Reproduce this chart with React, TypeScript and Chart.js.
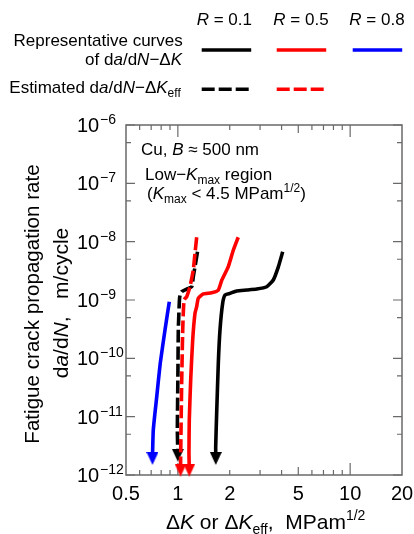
import React, { useEffect, useRef } from "react";
import { Chart, registerables } from "chart.js";

Chart.register(...registerables);

const FONT = "'Liberation Sans', Arial, sans-serif";

// ---- Data (ΔK in MPa·m^1/2, da/dN in m/cycle), listed from top end to arrow ----
const R01_DK = [4.06, 3.83, 3.58, 3.28, 2.87, 2.51, 2.195, 2.007, 1.877, 1.82, 1.756, 1.717, 1.68, 1.658, 1.66];
const R01_DADN = [6.7e-9, 3.7e-9, 2.2e-9, 1.69e-9, 1.54e-9, 1.48e-9, 1.43e-9, 1.3e-9, 1.22e-9, 8.8e-10, 3.06e-10, 8.2e-11, 1.16e-11, 3.06e-12, 1.92e-12];

const R05_DK = [2.24, 2.1, 1.96, 1.8, 1.717, 1.57, 1.405, 1.314, 1.286, 1.257, 1.219, 1.187, 1.165, 1.16, 1.165];
const R05_DADN = [1.19e-8, 7.2e-9, 3.7e-9, 2.2e-9, 1.48e-9, 1.33e-9, 1.27e-9, 1.07e-9, 7.7e-10, 5.9e-10, 2.06e-10, 4.25e-11, 8.8e-12, 2.35e-12, 1.21e-12];

const R08_DK = [0.892, 0.842, 0.79, 0.754, 0.72, 0.712];
const R08_DADN = [9.35e-10, 3.06e-10, 8.2e-11, 2.2e-11, 5.9e-12, 1.92e-12];

const R01_EFF_DK = [1.3, 1.257, 1.229, 1.203, 1.125, 1.053, 1.029, 1.02, 1.006, 1.0, 0.993, 1.0];
const R01_EFF_DADN = [6.7e-9, 3.7e-9, 2.5e-9, 1.69e-9, 1.53e-9, 1.39e-9, 1.22e-9, 9.35e-10, 3.06e-10, 4.25e-11, 5.9e-12, 2.18e-12];

const R05_EFF_DK = [1.286, 1.257, 1.229, 1.176, 1.125, 1.086, 1.067, 1.053, 1.043, 1.036];
const R05_EFF_DADN = [1.19e-8, 6.3e-9, 3.27e-9, 1.69e-9, 1.14e-9, 1.0e-9, 3.06e-10, 4.25e-11, 5.9e-12, 1.21e-12];

// ---- Axis ticks ----
const X_TICK_VALUES = [0.5, 1, 2, 5, 10, 20];
const X_TICK_LABELS = ["0.5", "1", "2", "5", "10", "20"];
const X_MAJOR_TICKS = [1, 10];
const X_MID_TICKS = [5];
const X_MINOR_TICKS = [0.6, 0.7, 0.8, 0.9, 2, 3, 4, 6, 7, 8, 9];
const Y_EXPONENTS = [-12, -11, -10, -9, -8, -7, -6];
const Y_MINOR_TICKS = [5e-12, 5e-11, 5e-10, 5e-9, 5e-8, 5e-7];

const R_LABELS = ["0.1", "0.5", "0.8"];
const SERIES_COLORS = ["#000000", "#ff0000", "#0000ff"];

type Seg = { t: string; it?: boolean; s?: number; dy?: number };

function segFont(seg: Seg, base: number) {
  return `${seg.it ? "italic " : ""}${seg.s ?? base}px ${FONT}`;
}
function richWidth(ctx: CanvasRenderingContext2D, segs: Seg[], base: number) {
  let w = 0;
  for (const s of segs) {
    ctx.font = segFont(s, base);
    w += ctx.measureText(s.t).width;
  }
  return w;
}
function drawRich(
  ctx: CanvasRenderingContext2D,
  segs: Seg[],
  x: number,
  y: number,
  base: number,
  align: "left" | "right" | "center" = "left"
) {
  const w = richWidth(ctx, segs, base);
  let cx = align === "left" ? x : align === "right" ? x - w : x - w / 2;
  ctx.textAlign = "left";
  ctx.textBaseline = "alphabetic";
  for (const s of segs) {
    ctx.font = segFont(s, base);
    ctx.fillText(s.t, cx, y + (s.dy ?? 0));
    cx += ctx.measureText(s.t).width;
  }
}

function arrowHead(color: string) {
  const c = document.createElement("canvas");
  c.width = 12;
  c.height = 13;
  const g = c.getContext("2d")!;
  g.fillStyle = color;
  g.beginPath();
  g.moveTo(0, 0);
  g.lineTo(12, 0);
  g.lineTo(6, 13);
  g.closePath();
  g.fill();
  return c;
}

const framePlugin = {
  id: "frameTicks",
  beforeDatasetsDraw(chart: any) {
    const ctx: CanvasRenderingContext2D = chart.ctx;
    const { left, right, top, bottom } = chart.chartArea;
    const xs = chart.scales.x;
    const ys = chart.scales.y;
    ctx.save();
    ctx.strokeStyle = "#6a6a6a";
    ctx.lineWidth = 1.5;
    ctx.strokeRect(left, top, right - left, bottom - top);
    ctx.lineWidth = 1.2;
    const xt = (v: number, len: number) => {
      const px = xs.getPixelForValue(v);
      ctx.beginPath();
      ctx.moveTo(px, bottom);
      ctx.lineTo(px, bottom - len);
      ctx.moveTo(px, top);
      ctx.lineTo(px, top + len);
      ctx.stroke();
    };
    X_MAJOR_TICKS.forEach((v) => xt(v, 12));
    X_MID_TICKS.forEach((v) => xt(v, 8));
    X_MINOR_TICKS.forEach((v) => xt(v, 5));
    const yt = (v: number, len: number) => {
      const py = ys.getPixelForValue(v);
      ctx.beginPath();
      ctx.moveTo(left, py);
      ctx.lineTo(left + len, py);
      ctx.moveTo(right, py);
      ctx.lineTo(right - len, py);
      ctx.stroke();
    };
    Y_EXPONENTS.forEach((e) => yt(Math.pow(10, e), 9));
    Y_MINOR_TICKS.forEach((v) => yt(v, 5));
    ctx.restore();
  },
  afterDraw(chart: any) {
    const ctx: CanvasRenderingContext2D = chart.ctx;
    const xs = chart.scales.x;
    const ys = chart.scales.y;
    ctx.save();
    ctx.fillStyle = "#000";

    // x tick labels
    ctx.font = `20px ${FONT}`;
    ctx.textAlign = "center";
    ctx.textBaseline = "alphabetic";
    X_TICK_VALUES.forEach((v, i) => {
      ctx.fillText(X_TICK_LABELS[i], xs.getPixelForValue(v), 500);
    });

    // y tick labels: 10^n
    Y_EXPONENTS.forEach((e) => {
      const py = ys.getPixelForValue(Math.pow(10, e));
      drawRich(ctx, [{ t: "10" }], 77, py + 7, 20, "left");
      drawRich(ctx, [{ t: "\u2212" + Math.abs(e) }], 100, py - 1, 14, "left");
    });

    // x title
    drawRich(
      ctx,
      [
        { t: "\u0394" },
        { t: "K", it: true },
        { t: " or \u0394" },
        { t: "K", it: true },
        { t: "eff", s: 14, dy: 5 },
        { t: ",  MPam" },
        { t: "1/2", s: 14, dy: -9 },
      ],
      166,
      529,
      21,
      "left"
    );

    // y title (rotated)
    ctx.save();
    ctx.translate(32, 304);
    ctx.rotate(-Math.PI / 2);
    drawRich(ctx, [{ t: "Fatigue crack propagation rate" }], 0, 7, 20.6, "center");
    ctx.restore();
    ctx.save();
    ctx.translate(61, 303);
    ctx.rotate(-Math.PI / 2);
    drawRich(
      ctx,
      [{ t: "d" }, { t: "a", it: true }, { t: "/d" }, { t: "N", it: true }, { t: ",   m/cycle" }],
      0,
      7,
      21,
      "center"
    );
    ctx.restore();

    // annotations inside plot
    drawRich(ctx, [{ t: "Cu, " }, { t: "B", it: true }, { t: " \u2248 500 nm" }], 141, 155, 17);
    drawRich(
      ctx,
      [{ t: "Low\u2212" }, { t: "K", it: true }, { t: "max", s: 12, dy: 4 }, { t: " region" }],
      145,
      180,
      17
    );
    drawRich(
      ctx,
      [
        { t: "(" },
        { t: "K", it: true },
        { t: "max", s: 12, dy: 4 },
        { t: " < 4.5 MPam" },
        { t: "1/2", s: 12, dy: -7 },
        { t: ")" },
      ],
      147,
      199,
      17
    );

    // legend
    const legX = [201.7, 276.7, 352.7];
    const legTextX = [196.7, 273.3, 349.3];
    R_LABELS.forEach((r, i) => {
      drawRich(ctx, [{ t: "R", it: true }, { t: " = " + r }], legTextX[i], 25, 17);
    });
    drawRich(ctx, [{ t: "Representative curves" }], 182.7, 46, 17, "right");
    drawRich(
      ctx,
      [{ t: "of d" }, { t: "a", it: true }, { t: "/d" }, { t: "N", it: true }, { t: "\u2212\u0394" }, { t: "K", it: true }],
      182,
      65,
      17,
      "right"
    );
    drawRich(
      ctx,
      [
        { t: "Estimated d" },
        { t: "a", it: true },
        { t: "/d" },
        { t: "N", it: true },
        { t: "\u2212\u0394" },
        { t: "K", it: true },
        { t: "eff", s: 12, dy: 4 },
      ],
      9.3,
      93,
      17
    );
    ctx.lineWidth = 3.5;
    ctx.lineCap = "butt";
    SERIES_COLORS.forEach((c, i) => {
      ctx.strokeStyle = c;
      ctx.setLineDash([]);
      ctx.beginPath();
      ctx.moveTo(legX[i], 50);
      ctx.lineTo(legX[i] + 49.5, 50);
      ctx.stroke();
      if (i < 2) {
        ctx.setLineDash([13, 4]);
        ctx.beginPath();
        ctx.moveTo(legX[i], 89.3);
        ctx.lineTo(legX[i] + 49, 89.3);
        ctx.stroke();
      }
    });
    ctx.restore();
  },
};

function series(xs: number[], ys: number[], color: string, dashed: boolean, head: HTMLCanvasElement) {
  const last = xs.length - 1;
  return {
    data: xs.map((x, i) => ({ x, y: ys[i] })),
    showLine: true,
    borderColor: color,
    backgroundColor: color,
    borderWidth: 3.6,
    borderDash: dashed ? [13, 4] : [],
    tension: 0.15,
    pointStyle: xs.map((_, i) => (i === last ? head : "circle")),
    pointRadius: xs.map((_, i) => (i === last ? 6 : 0)),
    pointHoverRadius: xs.map((_, i) => (i === last ? 6 : 0)),
    pointBorderWidth: 0,
    pointBackgroundColor: color,
    clip: false,
  };
}

export default function App() {
  const ref = useRef<HTMLCanvasElement | null>(null);
  useEffect(() => {
    if (!ref.current) return;
    const heads = SERIES_COLORS.map((c) => arrowHead(c));
    const chart = new Chart(ref.current, {
      type: "scatter",
      data: {
        datasets: [
          series(R05_EFF_DK, R05_EFF_DADN, SERIES_COLORS[1], true, heads[1]),
          series(R01_EFF_DK, R01_EFF_DADN, SERIES_COLORS[0], true, heads[0]),
          series(R05_DK, R05_DADN, SERIES_COLORS[1], false, heads[1]),
          series(R01_DK, R01_DADN, SERIES_COLORS[0], false, heads[0]),
          series(R08_DK, R08_DADN, SERIES_COLORS[2], false, heads[2]),
        ] as any,
      },
      options: {
        animation: false,
        responsive: false,
        devicePixelRatio: 1,
        layout: { padding: { left: 126, top: 125, right: 12, bottom: 59 } },
        scales: {
          x: { type: "logarithmic", min: 0.5, max: 20, display: false },
          y: { type: "logarithmic", min: 1e-12, max: 1e-6, display: false },
        },
        plugins: { legend: { display: false }, tooltip: { enabled: false } },
        events: [],
      },
      plugins: [framePlugin],
    });
    return () => chart.destroy();
  }, []);
  return (
    <div style={{ position: "fixed", left: 0, top: 0, width: 414, height: 534, background: "#fff" }}>
      <canvas ref={ref} width={414} height={534} style={{ display: "block", width: 414, height: 534 }} />
    </div>
  );
}
